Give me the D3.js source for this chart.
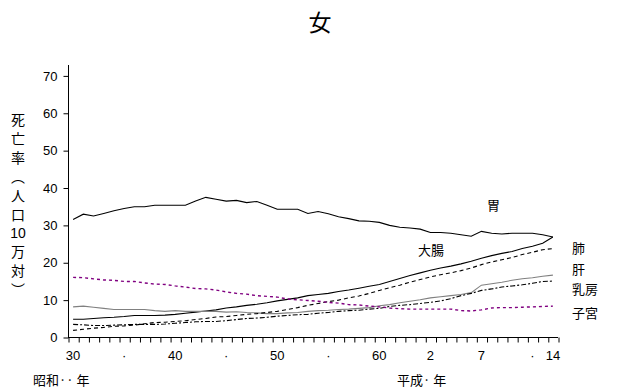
<!DOCTYPE html>
<html>
<head>
<meta charset="utf-8">
<script src="https://cdn.jsdelivr.net/npm/d3@7.9.0/dist/d3.min.js"></script>
<style>
  body { margin: 0; background: #fff; }
  svg { display: block; }
  .num { font-family: "Liberation Sans", Arial, sans-serif; font-size: 13px; fill: #000; }
  .jp { font-family: "Noto Sans CJK JP", sans-serif; fill: #000; }
</style>
</head>
<body>
<svg id="chart" width="620" height="389"></svg>
<script>
// years Showa 30 (1955) .. Heisei 14 (2002)
const years = d3.range(1955, 2003);

const tickLabels = { 1955: "30", 1960: "·", 1965: "40", 1970: "·", 1975: "50", 1980: "·",
                     1985: "60", 1990: "2", 1995: "7", 2000: "·", 2002: "14" };

const stomach = [31.6, 33.0, 32.5, 33.2, 33.9, 34.5, 35.0, 35.0, 35.4, 35.4,
  35.4, 35.4, 36.5, 37.5, 37.0, 36.5, 36.7, 36.1, 36.4, 35.4,
  34.3, 34.3, 34.3, 33.2, 33.7, 33.1, 32.3, 31.8, 31.2, 31.1,
  30.8, 30.0, 29.5, 29.3, 29.0, 28.1, 28.1, 27.9, 27.5, 27.1,
  28.4, 27.9, 27.7, 27.9, 27.9, 27.9, 27.5, 26.9];

const colon = [4.9, 4.9, 5.1, 5.3, 5.4, 5.6, 5.9, 5.9, 5.9, 6.0, 6.2, 6.5, 6.8, 7.1, 7.4,
  7.9, 8.2, 8.6, 8.9, 9.3, 9.8, 10.2, 10.6, 11.2, 11.5, 11.8, 12.3, 12.7, 13.2, 13.7, 14.2,
  15.0, 15.8, 16.6, 17.3, 18.0, 18.6, 19.1, 19.7, 20.4, 21.2, 21.9, 22.5, 23.0, 23.8, 24.4, 25.2, 26.9];

const lung = [1.9, 2.2, 2.5, 2.7, 3.0, 3.1, 3.3, 3.7, 4.0, 4.1, 4.3, 4.5, 4.8, 5.1, 5.5,
  5.6, 5.9, 6.2, 6.4, 6.7, 7.0, 7.5, 8.0, 8.6, 9.1, 9.6, 10.0, 10.6, 11.1, 11.8, 12.6,
  13.3, 14.0, 14.8, 15.5, 16.2, 16.8, 17.3, 17.9, 18.6, 19.5, 20.2, 20.8, 21.4, 22.2, 22.8, 23.5, 23.8];

const liver = [8.2, 8.4, 8.1, 7.8, 7.5, 7.5, 7.5, 7.5, 7.2, 7.0, 7.2, 7.0, 7.0, 7.0, 7.0,
  6.8, 6.9, 6.7, 6.6, 6.4, 6.4, 6.6, 6.7, 7.0, 7.2, 7.3, 7.5, 7.6, 7.8, 8.0, 8.5,
  8.8, 9.3, 9.7, 10.1, 10.6, 10.9, 11.2, 11.5, 12.0, 14.0, 14.4, 14.8, 15.3, 15.7, 16.0, 16.4, 16.7];

const breast = [3.5, 3.4, 3.2, 3.2, 3.3, 3.4, 3.5, 3.5, 3.5, 3.6, 3.8, 4.0, 4.2, 4.3, 4.3,
  4.5, 4.8, 5.1, 5.2, 5.4, 5.7, 5.9, 6.1, 6.2, 6.5, 6.7, 7.0, 7.2, 7.3, 7.6, 7.8,
  8.3, 8.6, 8.8, 9.1, 9.4, 9.8, 10.4, 11.2, 11.8, 12.6, 13.0, 13.5, 13.8, 14.1, 14.5, 15.0, 15.1];

const uterus = [16.1, 16.0, 15.7, 15.4, 15.3, 15.0, 15.0, 14.6, 14.3, 14.2, 13.8, 13.5, 13.1, 13.0, 12.7, 12.2,
  11.8, 11.6, 11.2, 11.0, 10.8, 10.3, 10.1, 9.9, 9.7, 9.4, 9.2, 8.8, 8.7, 8.4, 8.2, 7.9,
  7.7, 7.6, 7.6, 7.6, 7.6, 7.6, 7.2, 7.1, 7.4, 7.9, 8.0, 8.0, 8.1, 8.2, 8.3, 8.4];

const series = [
  { name: "胃", values: stomach, color: "#000", dash: null },
  { name: "大腸", values: colon, color: "#000", dash: null },
  { name: "肝", values: liver, color: "#808080", dash: null },
  { name: "肺", values: lung, color: "#000", dash: "4,3" },
  { name: "乳房", values: breast, color: "#000", dash: "5,2,2,2" },
  { name: "子宮", values: uterus, color: "#800080", dash: "3,3" }
];

const svg = d3.select("#chart");

const x = d3.scaleBand().domain(years).range([68, 558]);
const xEdge = d3.scaleLinear().domain([0, years.length]).range([68, 558]);
const y = d3.scaleLinear().domain([0, 70]).range([337.5, 75.9]);

// title
svg.append("text").attr("class", "jp")
  .attr("x", 320).attr("y", 31).attr("text-anchor", "middle")
  .style("font-size", "23px").text("女");

// y axis
const yAxis = svg.append("g").attr("transform", "translate(68.5,0)")
  .call(d3.axisLeft(y).tickValues(d3.range(0, 71, 10)).tickSize(5).tickPadding(6));
yAxis.select(".domain").remove();
yAxis.selectAll("text").attr("class", "num").attr("font-family", null).attr("font-size", null);
svg.append("line").attr("x1", 68.5).attr("x2", 68.5).attr("y1", 65).attr("y2", 338)
  .attr("stroke", "#000");

// x axis: tick marks at category edges
const xTicks = svg.append("g").attr("transform", "translate(0,337.5)")
  .call(d3.axisBottom(xEdge).tickValues(d3.range(years.length + 1)).tickSize(5).tickFormat(""));
xTicks.select(".domain").attr("d", "M68,0H558");
xTicks.selectAll(".tick line").attr("transform", "translate(0.5,0)");

// x labels at category centres
const xLabels = svg.append("g").attr("transform", "translate(0,337.5)")
  .call(d3.axisBottom(x).tickValues(Object.keys(tickLabels).map(Number))
    .tickSize(0).tickPadding(13).tickFormat(d => tickLabels[d]));
xLabels.select(".domain").remove();
xLabels.selectAll("text").attr("class", "num").attr("font-family", null).attr("font-size", null);

// era labels
svg.append("text").attr("class", "jp").attr("x", 33).attr("y", 385)
  .style("font-size", "13px").text("昭和·· 年");
svg.append("text").attr("class", "jp").attr("x", 397).attr("y", 385)
  .style("font-size", "13px").text("平成· 年");

// vertical y title
const yTitle = ["死", "亡", "率", "︵", "人", "口", "10", "万", "対", "︶"];
svg.append("g").selectAll("text").data(yTitle).join("text")
  .attr("class", d => d === "10" ? "num" : "jp")
  .attr("x", 18).attr("y", (d, i) => 125 + i * 18.9)
  .attr("text-anchor", "middle")
  .style("font-size", "14px")
  .text(d => d);

// lines
const line = d3.line()
  .x((d, i) => x(years[i]) + x.bandwidth() / 2)
  .y(d => y(d));

svg.append("g").selectAll("path").data(series).join("path")
  .attr("d", d => line(d.values))
  .attr("fill", "none")
  .attr("stroke", d => d.color)
  .attr("stroke-width", d => d.name === "子宮" ? 1.4 : 1.1)
  .attr("stroke-dasharray", d => d.dash);

// series labels
const labels = [
  { t: "胃", x: 487, y: 210 },
  { t: "大腸", x: 418, y: 255 },
  { t: "肺", x: 572, y: 253 },
  { t: "肝", x: 572, y: 274 },
  { t: "乳房", x: 572, y: 294 },
  { t: "子宮", x: 572, y: 318 }
];
svg.append("g").selectAll("text").data(labels).join("text")
  .attr("class", "jp").attr("x", d => d.x).attr("y", d => d.y)
  .style("font-size", "13px").text(d => d.t);
</script>
</body>
</html>
